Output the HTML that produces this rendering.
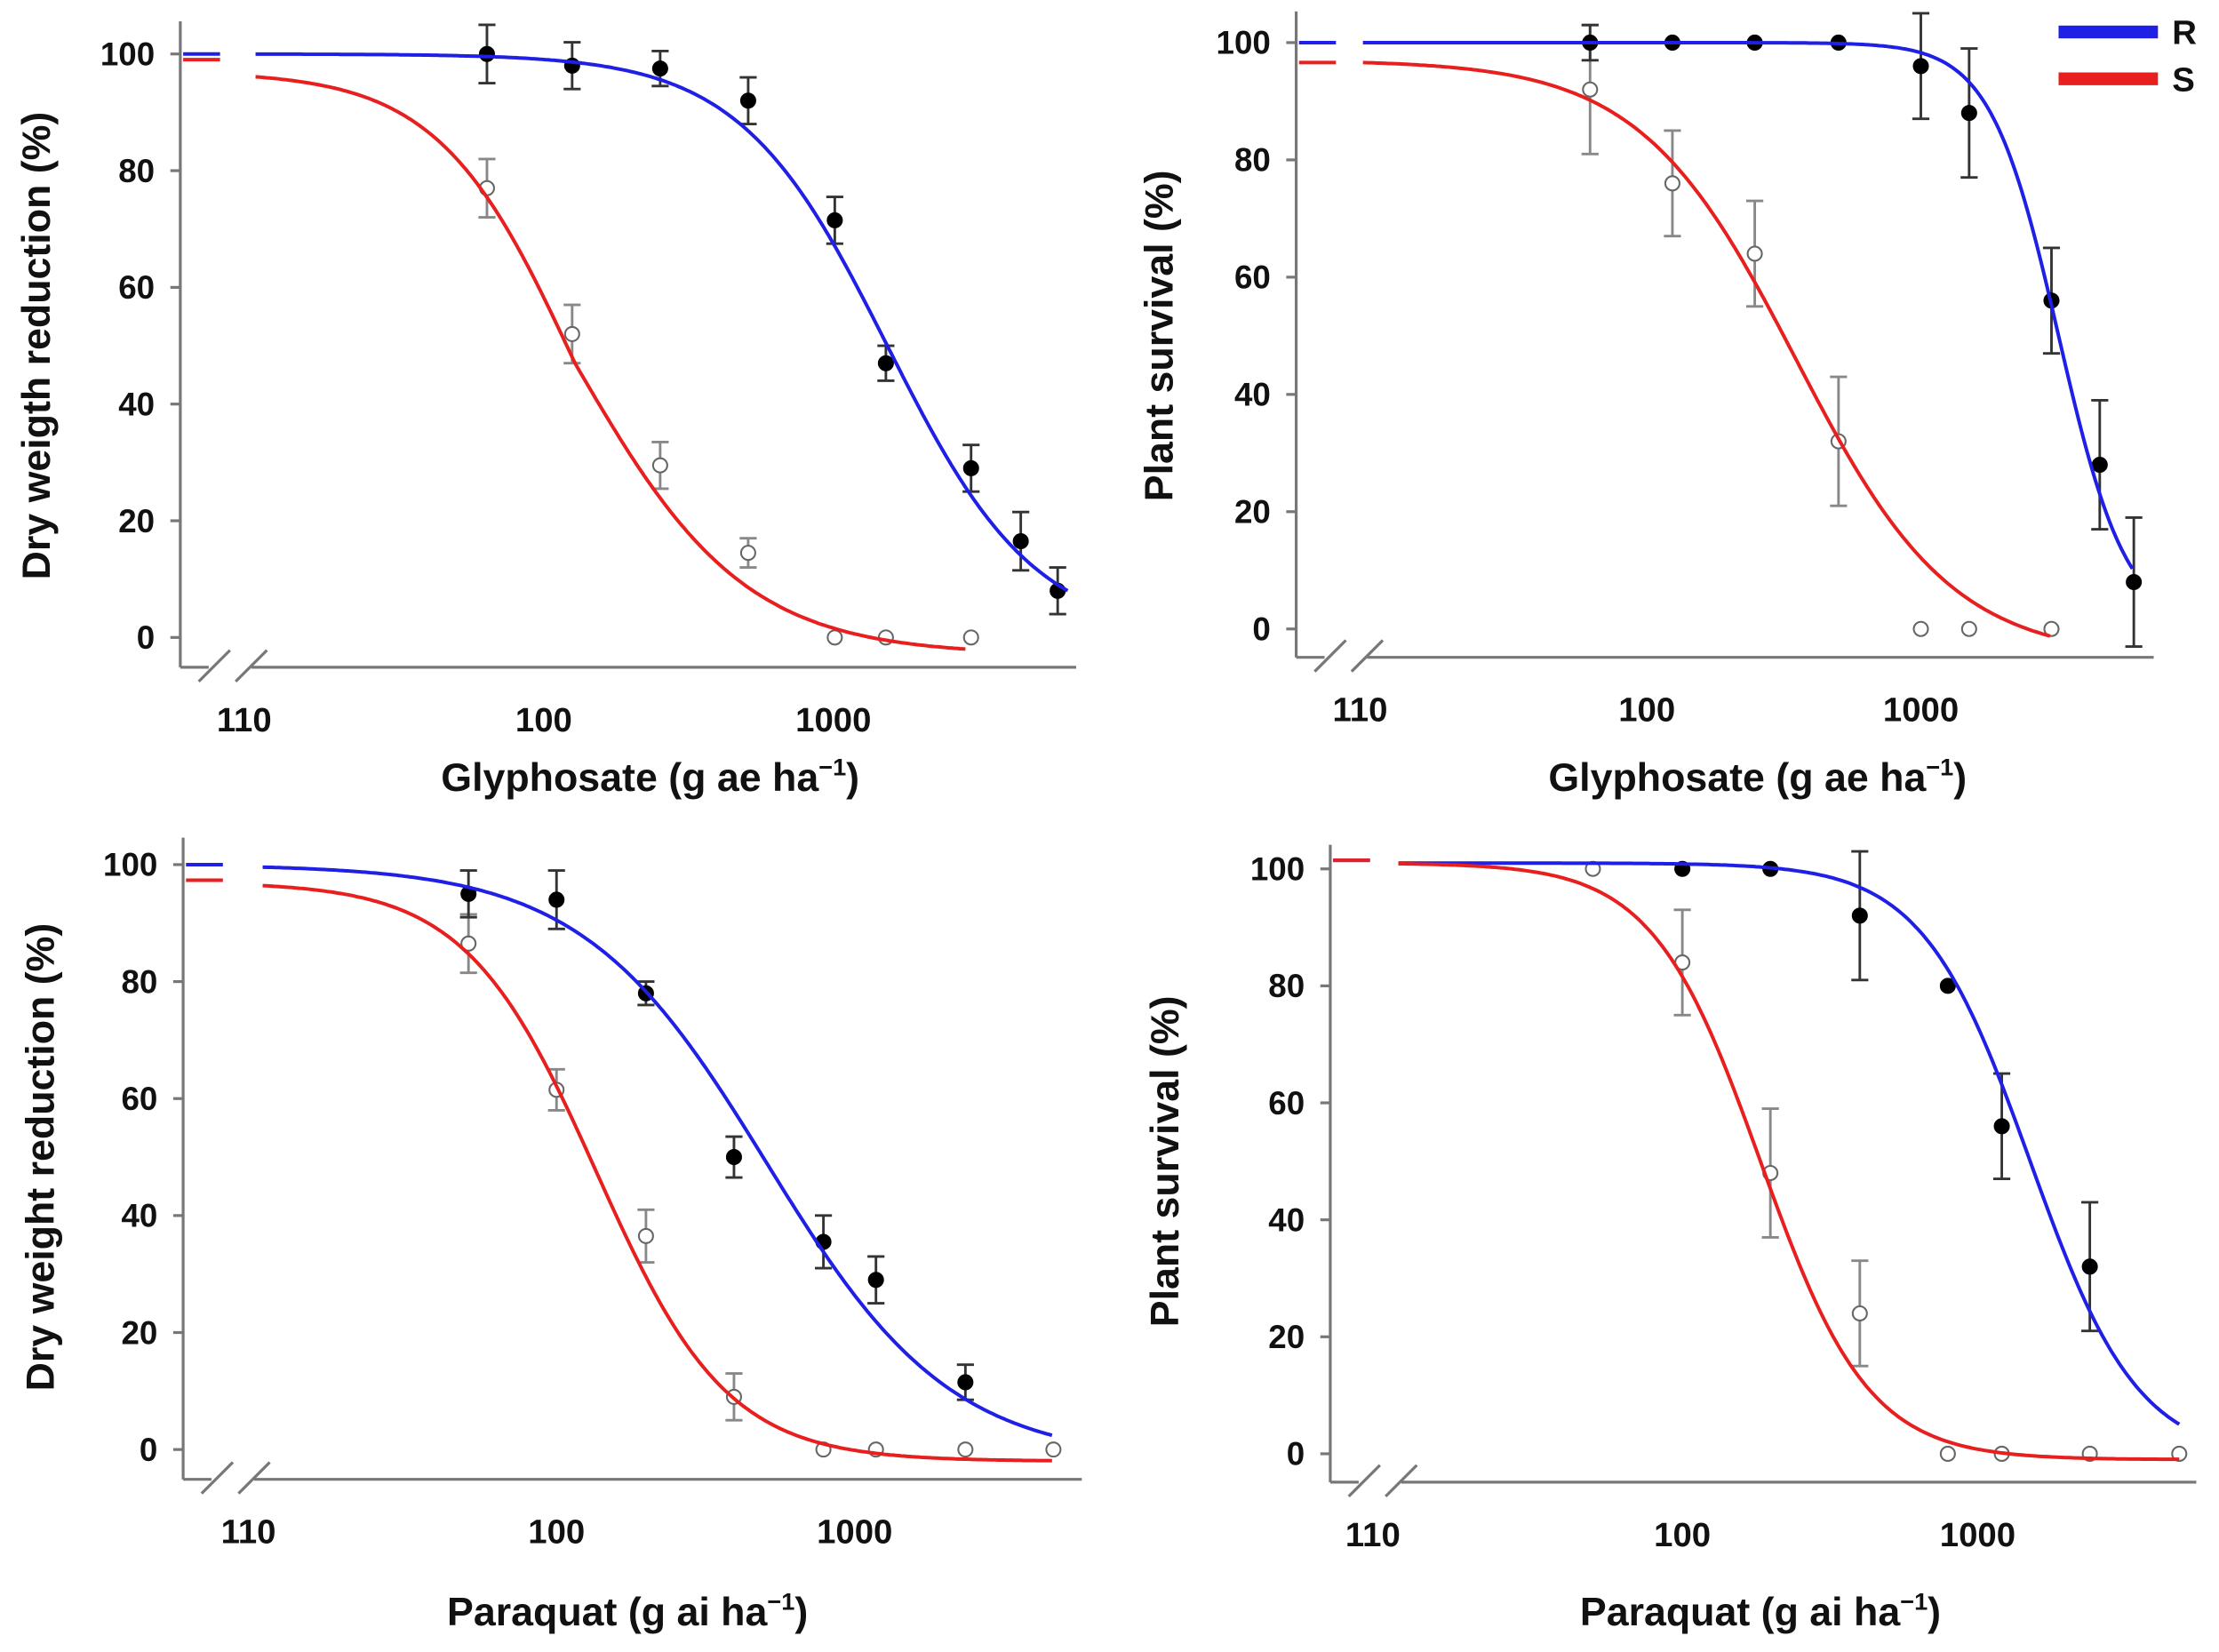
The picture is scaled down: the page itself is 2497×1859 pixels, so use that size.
<!DOCTYPE html>
<html><head><meta charset="utf-8"><style>
html,body{margin:0;padding:0;background:#fff;}
svg{display:block;}
text{font-family:"Liberation Sans",Arial,sans-serif;font-weight:bold;fill:#111;}
</style></head><body>
<svg id="s" width="2497" height="1859" viewBox="0 0 1563 1163.6" xmlns="http://www.w3.org/2000/svg">
<g id="g"></g>
<text x="1530" y="31" font-size="24">R</text>
<text x="1530" y="64" font-size="24">S</text>
<rect x="1450" y="18" width="70" height="9" fill="#1f1fe6"/>
<rect x="1450" y="51" width="70" height="9" fill="#e81f1f"/>
</svg>
<script>
var g=document.getElementById('g');var h='';
var P=[
{ax:127,ay0:15,ay:470,ax1:758,y100:38,y0:449,t:[[172,'110'],[383,'100'],[587,'1000']],xl:'Glyphosate (g ae ha',xlx:458,xly:557,yl:'Dry weigth reduction (%)',ylx:35,
 bl:{top:100,bot:0,x50:625,s:52,x0:180,x1:752},rd:{top:97,bot:-3,x50:405,s:60,x0:180,x1:680,p:1},
 bp:[[343,100,5],[403,98,4],[465,97.5,3],[527,92,4],[588,71.5,4],[624,47,3],[684,29,4],[719,16.5,5],[745,8,4]],
 rp:[[343,77,5],[403,52,5],[465,29.5,4],[527,14.5,2.5],[588,0,0],[624,0,0],[684,0,0]],bd:38,rd0:42},
{ax:913,ay0:8,ay:463,ax1:1517,y100:30,y0:443,t:[[958,'110'],[1160,'100'],[1353,'1000']],xl:'Glyphosate (g ae ha',xlx:1238,xly:557,yl:'Plant survival (%)',ylx:826,
 bl:{top:100,bot:0,x50:1450,s:24,x0:960,x1:1503},rd:{top:97,bot:-5,x50:1265,s:55,x0:960,x1:1445},
 bp:[[1120,100,3],[1178,100,0],[1236,100,0],[1295,100,0],[1353,96,9],[1387,88,11],[1445,56,9],[1479,28,11],[1503,8,11]],
 rp:[[1120,92,11],[1178,76,9],[1236,64,9],[1295,32,11],[1353,0,0],[1387,0,0],[1445,0,0]],bd:30,rd0:44},
{ax:129,ay0:590,ay:1042,ax1:762,y100:609,y0:1021,t:[[175,'110'],[392,'100'],[602,'1000']],xl:'Paraquat (g ai ha',xlx:442,xly:1145,yl:'Dry weight reduction (%)',ylx:38,
 bl:{top:100,bot:-2,x50:540,s:65,x0:185,x1:742},rd:{top:97,bot:-2,x50:420,s:46,x0:185,x1:742},
 bp:[[330,95,4],[392,94,5],[455,78,2],[517,50,3.5],[580,35.5,4.5],[617,29,4],[680,11.5,3]],
 rp:[[330,86.5,5],[392,61.5,3.5],[455,36.5,4.5],[517,9,4],[580,0,0],[617,0,0],[680,0,0],[742,0,0]],bd:609,rd0:620},
{ax:937,ay0:595,ay:1044,ax1:1547,y100:612,y0:1024,t:[[967,'110'],[1185,'100'],[1393,'1000']],xl:'Paraquat (g ai ha',xlx:1240,xly:1145,yl:'Plant survival (%)',ylx:830,
 bl:{top:101,bot:-1,x50:1430,s:38,x0:985,x1:1535},rd:{top:101,bot:-1,x50:1240,s:38,x0:985,x1:1535},
 bp:[[1185,100,0],[1247,100,0],[1310,92,11],[1372,80,0],[1410,56,9],[1472,32,11]],
 rp:[[1122,100,0],[1185,84,9],[1247,48,11],[1310,24,9],[1372,0,0],[1410,0,0],[1472,0,0],[1535,0,0]],bd:606,rd0:606}
];
P.forEach(function(p){
 var k=(p.y0-p.y100)/100;function Y(v){return p.y0-v*k;}
 h+='<line x1="'+p.ax+'" y1="'+p.ay0+'" x2="'+p.ax+'" y2="'+p.ay+'" stroke="#777" stroke-width="2"/>';
 h+='<line x1="'+p.ax+'" y1="'+p.ay+'" x2="'+p.ax1+'" y2="'+p.ay+'" stroke="#777" stroke-width="2"/>';
 for(var v=0;v<=100;v+=20){var y=Y(v);h+='<line x1="'+(p.ax-7)+'" y1="'+y+'" x2="'+p.ax+'" y2="'+y+'" stroke="#777" stroke-width="2"/>';
  h+='<text x="'+(p.ax-18)+'" y="'+(y+8)+'" font-size="23" text-anchor="end">'+v+'</text>';}
 h+='<rect x="'+(p.ax+20)+'" y="'+(p.ay-3)+'" width="30" height="6" fill="#fff"/>';
 [p.ax+22,p.ax+48].forEach(function(x){h+='<line x1="'+(x-9)+'" y1="'+(p.ay+10)+'" x2="'+(x+13)+'" y2="'+(p.ay-12)+'" stroke="#777" stroke-width="2"/>';});
 p.t.forEach(function(t){h+='<text x="'+t[0]+'" y="'+(p.ay+45)+'" font-size="24" text-anchor="middle">'+t[1]+'</text>';});
 h+='<text x="'+p.xlx+'" y="'+p.xly+'" font-size="28" text-anchor="middle">'+p.xl+'<tspan font-size="17" dy="-11">−1</tspan><tspan dy="11">)</tspan></text>';
 var cy=(p.y100+p.y0)/2;
 h+='<text transform="translate('+(p.ylx)+','+cy+') rotate(-90)" font-size="28" text-anchor="middle">'+p.yl+'</text>';
 h+='<line x1="'+(p.ax+2)+'" y1="'+p.bd+'" x2="'+(p.ax+28)+'" y2="'+p.bd+'" stroke="#1f1fe6" stroke-width="2.5"/>';
 h+='<line x1="'+(p.ax+2)+'" y1="'+p.rd0+'" x2="'+(p.ax+28)+'" y2="'+p.rd0+'" stroke="#e81f1f" stroke-width="2.5"/>';
 function curve(c,col){var d='';for(var x=c.x0;x<=c.x1;x+=2){var z=(x-c.x50)/c.s;if(c.p&&z<0)z*=1.25;var v=c.bot+(c.top-c.bot)/(1+Math.exp(z));d+=(d?'L':'M')+x+','+Y(v).toFixed(1);}
  h+='<path d="'+d+'" fill="none" stroke="'+col+'" stroke-width="2.5"/>';}
 function pts(a,fill){a.forEach(function(q){var y=Y(q[1]);if(q[2]>0){var e=q[2]*k;h+='<path d="M'+q[0]+','+(y-e)+'V'+(y+e)+'M'+(q[0]-6)+','+(y-e)+'h12M'+(q[0]-6)+','+(y+e)+'h12" stroke="'+(fill?'#333':'#888')+'" stroke-width="1.8" fill="none"/>';}
  h+='<circle cx="'+q[0]+'" cy="'+y+'" r="5" fill="'+(fill?'#000':'#fff')+'" stroke="'+(fill?'#000':'#666')+'" stroke-width="1.3"/>';});}
 pts(p.rp,false);pts(p.bp,true);
 curve(p.bl,'#1f1fe6');curve(p.rd,'#e81f1f');
});
g.innerHTML=h;
</script>
</body></html>
